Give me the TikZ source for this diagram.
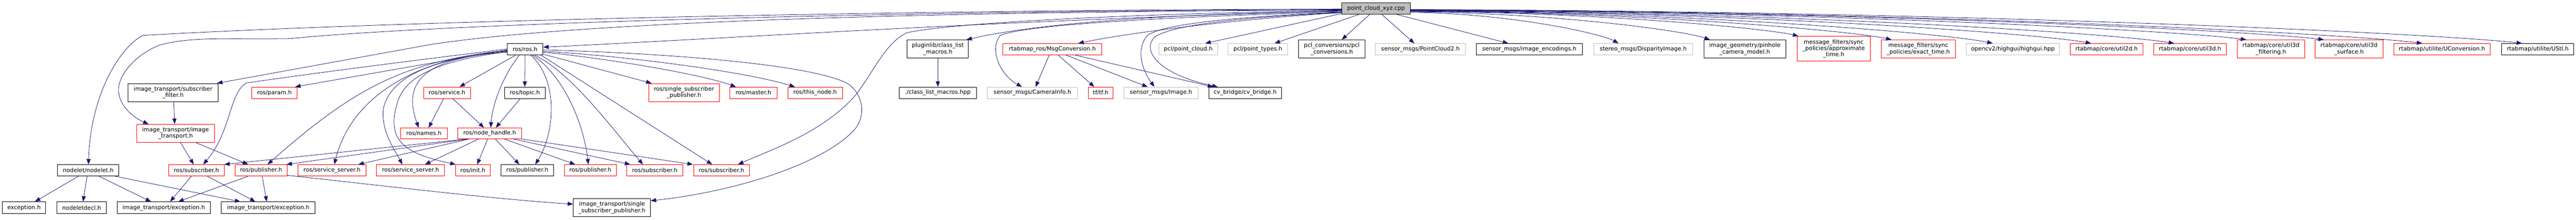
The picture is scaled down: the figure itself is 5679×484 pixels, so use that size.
\documentclass[tikz,border=0pt]{standalone}
\usepackage{fontspec}
\setmainfont{DejaVu Sans}
\usetikzlibrary{arrows.meta,calc}
\definecolor{eblue}{HTML}{191970}
\definecolor{gry}{HTML}{BFBFBF}
\definecolor{rd}{HTML}{FF0000}
\newcommand\rcurve[2]{\draw[e] let \p1=(#1), \p2=(#2) in (\p1) .. controls ({\x1+0.5*(\x2-\x1)},{\y1+0.05*(\y2-\y1)}) and ({\x2-0.08*(\x2-\x1)},{\y2-0.3*(\y2-\y1)}) .. (\p2);}
\begin{document}
\begin{tikzpicture}[x=1pt,y=-1pt,
  bx/.style={draw=black, line width=1pt, fill=white, inner sep=0pt, align=center, font=\fontsize{12.6}{14}\selectfont},
  rb/.style={bx, draw=rd},
  gb/.style={bx, draw=gry},
  e/.style={draw=eblue, line width=0.9pt, -{Triangle[length=12pt,width=9pt]}}]
\useasboundingbox (0,0) rectangle (5679,484);
\fill[white] (0,0) rectangle (5679,484);
% nodes
\node[bx, fill=gry, minimum width=151pt, minimum height=25pt] (root) at (3033.5,18.5) {point\_cloud\_xyz.cpp};
\node[bx, minimum width=135pt, minimum height=25pt] (nodelet) at (194.5,375.5) {nodelet/nodelet.h};
\node[bx, minimum width=96pt, minimum height=26pt] (exc) at (53,458) {exception.h};
\node[bx, minimum width=108pt, minimum height=26pt] (ndecl) at (180,458) {nodeletdecl.h};
\node[bx, minimum width=206pt, minimum height=26pt] (itexc1) at (361,458) {image\_transport/exception.h};
\node[bx, minimum width=207pt, minimum height=26pt] (itexc2) at (591.5,458) {image\_transport/exception.h};
\node[bx, minimum width=199pt, minimum height=40pt] (subf) at (381.5,204) {image\_transport/subscriber\\\_filter.h};
\node[rb, minimum width=172pt, minimum height=40pt] (itit) at (387,294) {image\_transport/image\\\_transport.h};
\node[rb, minimum width=122pt, minimum height=25pt] (sub1) at (433,375.5) {ros/subscriber.h};
\node[rb, minimum width=115pt, minimum height=25pt] (pub1) at (575.5,375.5) {ros/publisher.h};
\node[rb, minimum width=100pt, minimum height=25pt] (param) at (605,204.5) {ros/param.h};
\node[rb, minimum width=150pt, minimum height=25pt] (ss1) at (732,375.5) {ros/service\_server.h};
\node[rb, minimum width=150pt, minimum height=25pt] (ss2) at (905,375.5) {ros/service\_server.h};
\node[rb, minimum width=103pt, minimum height=24pt] (names) at (934.5,294) {ros/names.h};
\node[rb, minimum width=103pt, minimum height=25pt] (service) at (985.5,204.5) {ros/service.h};
\node[bx, minimum width=79pt, minimum height=25pt] (rosh) at (1157.5,108.5) {ros/ros.h};
\node[bx, minimum width=90pt, minimum height=25pt] (topic) at (1157,204.5) {ros/topic.h};
\node[rb, minimum width=141pt, minimum height=24pt] (nh) at (1079.5,294) {ros/node\_handle.h};
\node[rb, minimum width=77pt, minimum height=25pt] (init) at (1042.5,375.5) {ros/init.h};
\node[bx, minimum width=115pt, minimum height=25pt] (pub2) at (1162.5,375.5) {ros/publisher.h};
\node[rb, minimum width=115pt, minimum height=25pt] (pub3) at (1301.5,375.5) {ros/publisher.h};
\node[rb, minimum width=123pt, minimum height=25pt] (sub2) at (1443.5,375.5) {ros/subscriber.h};
\node[rb, minimum width=123pt, minimum height=25pt] (sub3) at (1590.5,375.5) {ros/subscriber.h};
\node[bx, minimum width=170pt, minimum height=40pt] (itssp) at (1349,458) {image\_transport/single\\\_subscriber\_publisher.h};
\node[rb, minimum width=156pt, minimum height=40pt] (rssp) at (1508,204) {ros/single\_subscriber\\\_publisher.h};
\node[rb, minimum width=104pt, minimum height=25pt] (master) at (1661,204.5) {ros/master.h};
\node[rb, minimum width=120pt, minimum height=25pt] (thisnode) at (1797,204.5) {ros/this\_node.h};
\node[bx, minimum width=135pt, minimum height=40pt] (plug) at (2067.5,108) {pluginlib/class\_list\\\_macros.h};
\node[bx, minimum width=171pt, minimum height=25pt] (clm) at (2067.5,204.5) {./class\_list\_macros.hpp};
\node[gb, minimum width=198pt, minimum height=25pt] (caminfo) at (2276,204.5) {sensor\_msgs/CameraInfo.h};
\node[rb, minimum width=218pt, minimum height=25pt] (msgconv) at (2320,108.5) {rtabmap\_ros/MsgConversion.h};
\node[rb, minimum width=55pt, minimum height=25pt] (tf) at (2426.5,204.5) {tf/tf.h};
\node[gb, minimum width=163pt, minimum height=25pt] (image) at (2559.5,204.5) {sensor\_msgs/Image.h};
\node[bx, minimum width=160pt, minimum height=25pt] (cvb) at (2745,204.5) {cv\_bridge/cv\_bridge.h};
\node[gb, minimum width=129pt, minimum height=25pt] (pcloud) at (2619.5,108.5) {pcl/point\_cloud.h};
\node[gb, minimum width=132pt, minimum height=25pt] (ptypes) at (2773,108.5) {pcl/point\_types.h};
\node[bx, minimum width=146pt, minimum height=40pt] (pclconv) at (2936,108) {pcl\_conversions/pcl\\\_conversions.h};
\node[gb, minimum width=199pt, minimum height=25pt] (pc2) at (3131.5,108.5) {sensor\_msgs/PointCloud2.h};
\node[bx, minimum width=235pt, minimum height=25pt] (enc) at (3371.5,108.5) {sensor\_msgs/image\_encodings.h};
\node[gb, minimum width=217pt, minimum height=25pt] (disp) at (3622.5,108.5) {stereo\_msgs/DisparityImage.h};
\node[bx, minimum width=181pt, minimum height=40pt] (pinhole) at (3846.5,108) {image\_geometry/pinhole\\\_camera\_model.h};
\node[rb, minimum width=161pt, minimum height=55pt] (approx) at (4042.5,107.5) {message\_filters/sync\\\_policies/approximate\\\_time.h};
\node[rb, minimum width=164pt, minimum height=40pt] (exact) at (4229,108) {message\_filters/sync\\\_policies/exact\_time.h};
\node[gb, minimum width=205pt, minimum height=25pt] (highgui) at (4437.5,108.5) {opencv2/highgui/highgui.hpp};
\node[rb, minimum width=160pt, minimum height=25pt] (u2d) at (4644,108.5) {rtabmap/core/util2d.h};
\node[rb, minimum width=160pt, minimum height=25pt] (u3d) at (4828,108.5) {rtabmap/core/util3d.h};
\node[rb, minimum width=149pt, minimum height=40pt] (u3df) at (5006.5,108) {rtabmap/core/util3d\\\_filtering.h};
\node[rb, minimum width=149pt, minimum height=40pt] (u3ds) at (5178.5,108) {rtabmap/core/util3d\\\_surface.h};
\node[rb, minimum width=213pt, minimum height=25pt] (uconv) at (5383.5,108.5) {rtabmap/utilite/UConversion.h};
\node[bx, minimum width=159pt, minimum height=25pt] (ustl) at (5594.5,108.5) {rtabmap/utilite/UStl.h};
% root, left side
\draw[e] ([yshift=-1.5pt]root.west) .. controls (2000,22) and (900,45) .. (315,78) .. controls (270,100) and (200,200) .. ([xshift=0.5pt]nodelet.north);
\draw[e] ([yshift=-2.5pt]root.west) .. controls (2000,24) and (1000,50) .. (640,85) .. controls (500,87) and (420,80) .. (350,100) .. controls (290,125) and (255,175) .. (262,207) .. controls (268,240) and (300,262) .. ([xshift=27pt]itit.north west);
\draw[e] ([yshift=-3.5pt]root.west) .. controls (2100,26) and (1300,45) .. (950,98) -- ([xshift=-3pt]subf.north east);
\draw[e] ([yshift=-4.5pt]root.west) .. controls (2500,30) and (2100,50) .. (2000,72) .. controls (1955,92) and (1930,150) .. (1890,205) .. controls (1820,290) and (1700,330) .. ([xshift=36.5pt]sub3.north);
\draw[e] ([yshift=-5.5pt]root.west) .. controls (2200,45) and (1600,85) .. ([yshift=4.5pt]rosh.east);
\draw[e] ([yshift=-6.5pt]root.west) .. controls (2700,28) and (2330,42) .. ([xshift=-5pt]plug.north east);
\draw[e] ([yshift=-7.5pt]root.west) .. controls (2550,38) and (2260,55) .. (2205,78) .. controls (2180,110) and (2205,165) .. ([xshift=-23pt]caminfo.north);
\draw[e] ([yshift=-8.5pt]root.west) .. controls (2700,38) and (2560,55) .. (2530,78) .. controls (2505,105) and (2515,150) .. ([xshift=-14.5pt]image.north);
\draw[e] ([yshift=-9pt]root.west) .. controls (2700,40) and (2580,58) .. (2545,82) .. controls (2515,115) and (2560,165) .. ([xshift=20pt]cvb.north west);
\draw[e] ([yshift=-9.5pt]root.west) .. controls (2750,40) and (2500,70) .. ([xshift=57pt]msgconv.north);
\draw[e] ([yshift=-11.5pt]root.west) -- ([xshift=37.5pt]pcloud.north);
% root, bottom
\draw[e] ([xshift=-36.5pt]root.south) -- ([xshift=37pt]ptypes.north);
\draw[e] ([xshift=-13.5pt]root.south) -- ([xshift=22pt]pclconv.north);
\draw[e] ([xshift=12.5pt]root.south) -- ([xshift=-13.5pt]pc2.north);
\draw[e] ([xshift=44.5pt]root.south) -- ([xshift=-46.5pt]enc.north);
% root, right side
\rcurve{[yshift=-8.5pt]root.east}{[xshift=-54.5pt]disp.north}
\rcurve{[yshift=-7.5pt]root.east}{[xshift=14pt]pinhole.north west}
\rcurve{[yshift=-6.5pt]root.east}{[xshift=3pt]approx.north west}
\rcurve{[yshift=-6pt]root.east}{[xshift=-59pt]exact.north}
\rcurve{[yshift=-5.5pt]root.east}{[xshift=-44.5pt]highgui.north}
\rcurve{[yshift=-5pt]root.east}{[xshift=-34pt]u2d.north}
\rcurve{[yshift=-4.5pt]root.east}{[xshift=-35pt]u3d.north}
\rcurve{[yshift=-4pt]root.east}{[xshift=-54.5pt]u3df.north}
\rcurve{[yshift=-3.5pt]root.east}{[xshift=-55.5pt]u3ds.north}
\rcurve{[yshift=-3pt]root.east}{[xshift=-43.5pt]uconv.north}
\rcurve{[yshift=-2.5pt]root.east}{[xshift=-34.5pt]ustl.north}
% ros.h
\draw[e] ([yshift=0.5pt]rosh.west) .. controls (900,135) and (700,160) .. (543,183) .. controls (505,205) and (510,290) .. ([xshift=15pt]sub1.north);
\draw[e] ([yshift=-1.5pt]rosh.west) -- ([xshift=-5pt]param.north east);
\draw[e] ([yshift=-2.5pt]rosh.west) .. controls (900,135) and (790,185) .. ([xshift=14.5pt]pub1.north);
\draw[e] ([yshift=-3.5pt]rosh.west) .. controls (960,122) and (780,190) .. ([xshift=5pt]ss1.north);
\draw[e] ([yshift=-4.5pt]rosh.west) .. controls (950,130) and (860,170) .. (845,240) .. controls (840,290) and (870,330) .. ([xshift=-18pt]ss2.north);
\draw[e] ([yshift=-5.5pt]rosh.west) .. controls (960,135) and (890,170) .. (875,230) .. controls (850,315) and (900,340) .. ([xshift=1pt]init.north west);
\draw[e] ([yshift=-6.5pt]rosh.west) .. controls (920,128) and (890,190) .. ([xshift=-11.5pt]names.north);
\draw[e] ([xshift=-20.5pt]rosh.south) -- ([xshift=27.5pt]service.north);
\draw[e] ([xshift=-12.5pt]rosh.south) .. controls (1110,165) and (1085,230) .. ([xshift=2.5pt]nh.north);
\draw[e] (rosh.south) -- (topic.north);
\draw[e] ([xshift=12.5pt]rosh.south) .. controls (1230,175) and (1225,290) .. ([xshift=17.5pt]pub2.north);
\draw[e] ([xshift=16pt]rosh.south) .. controls (1235,160) and (1285,260) .. ([xshift=-4.5pt]pub3.north);
\draw[e] ([xshift=21pt]rosh.south) .. controls (1260,160) and (1355,290) .. ([xshift=36pt]sub2.north west);
\draw[e] ([xshift=-5pt]rosh.south east) -- ([xshift=-20.5pt]sub3.north);
\draw[e] ([yshift=-11pt]rosh.east) -- ([xshift=7pt]rssp.north west);
\draw[e] ([yshift=-6.5pt]rosh.east) .. controls (1350,130) and (1550,165) .. ([xshift=14pt]master.north west);
\draw[e] ([yshift=-4.5pt]rosh.east) .. controls (1400,125) and (1650,160) .. ([xshift=16pt]thisnode.north west);
\draw[e] ([yshift=-1.5pt]rosh.east) .. controls (1500,118) and (1800,145) .. (1870,185) .. controls (1905,210) and (1910,260) .. (1880,290) .. controls (1800,370) and (1600,425) .. ([yshift=-5pt]itssp.north east);
% node_handle
\draw[e] ([xshift=-4.5pt]nh.south) -- ([xshift=9.5pt]init.north);
\draw[e] ([xshift=12.5pt]nh.south) -- ([xshift=-17.5pt]pub2.north);
\draw[e] ([xshift=32.5pt]nh.south) -- ([xshift=-33.5pt]pub3.north);
\draw[e] ([xshift=52.5pt]nh.south) -- ([xshift=8pt]sub2.north west);
\draw[e] (nh.south east) -- ([xshift=-1pt]sub3.north west);
\draw[e] ([xshift=-24.5pt]nh.south) -- ([xshift=32pt]ss2.north);
\draw[e] ([xshift=26pt]nh.south west) -- ([xshift=58pt]ss1.north);
\draw[e] ([xshift=24pt]nh.south west) -- ([xshift=-2pt]pub1.north east);
\draw[e] ([xshift=21pt]nh.south west) -- (sub1.north east);
% service, topic
\draw[e] ([xshift=-7.5pt]service.south) -- ([xshift=10.5pt]names.north);
\draw[e] ([xshift=12.5pt]service.south) -- ([xshift=-12.5pt]nh.north);
\draw[e] ([xshift=-10pt]topic.south) -- ([xshift=13.5pt]nh.north);
% image_transport
\draw[e] ([xshift=1.5pt]subf.south) -- ([xshift=-2pt]itit.north);
\draw[e] ([xshift=11pt]itit.south) -- ([xshift=-6pt]sub1.north);
\draw[e] ([xshift=45pt]itit.south) -- ([xshift=-28.5pt]pub1.north);
\draw[e] ([xshift=-11pt]sub1.south) -- ([xshift=14pt]itexc1.north);
\draw[e] ([xshift=24pt]sub1.south) -- ([xshift=-28.5pt]itexc2.north);
\draw[e] ([xshift=-28.5pt]pub1.south) -- ([xshift=32pt]itexc1.north);
\draw[e] ([xshift=2.5pt]pub1.south) -- ([xshift=-3.5pt]itexc2.north);
\draw[e] ([yshift=2pt]pub1.south east) .. controls (850,410) and (1100,440) .. ([yshift=8pt]itssp.west);
% nodelet
\draw[e] ([xshift=-21.5pt]nodelet.south) -- ([xshift=24pt]exc.north);
\draw[e] ([xshift=-2.5pt]nodelet.south) -- ([xshift=3pt]ndecl.north);
\draw[e] ([xshift=23.5pt]nodelet.south) -- ([xshift=-28pt]itexc1.north);
\draw[e] ([xshift=-9pt]nodelet.south east) -- ([xshift=-61.5pt]itexc2.north);
% pluginlib
\draw[e] (plug.south) -- (clm.north);
% MsgConversion
\draw[e] ([xshift=-7pt]msgconv.south) -- ([xshift=7pt]caminfo.north);
\draw[e] ([xshift=13pt]msgconv.south) -- ([xshift=-14pt]tf.north);
\draw[e] ([xshift=30pt]msgconv.south) -- ([xshift=-29.5pt]image.north);
\draw[e] ([xshift=50pt]msgconv.south) -- ([xshift=10pt]cvb.north west);
\end{tikzpicture}
\end{document}
